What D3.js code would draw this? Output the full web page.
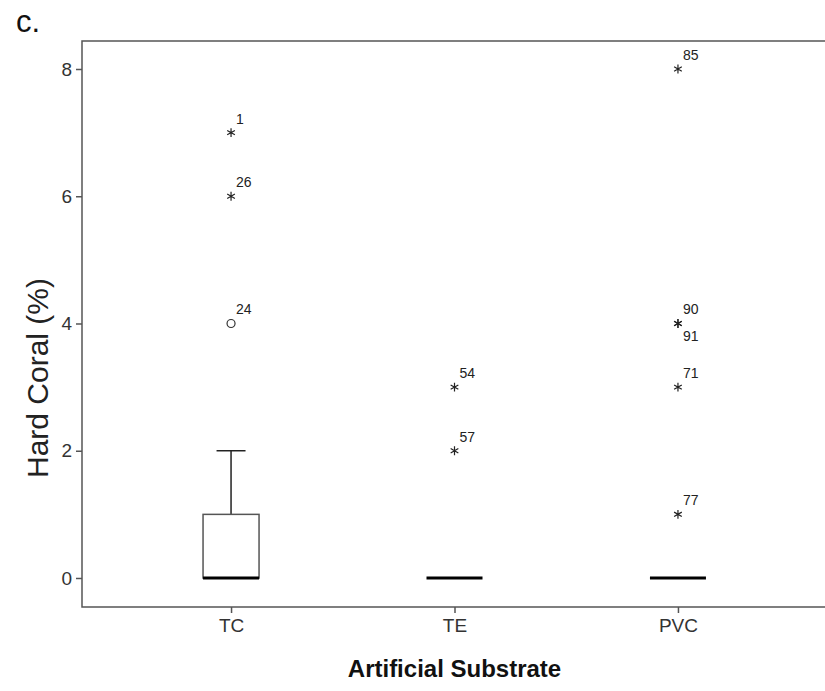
<!DOCTYPE html>
<html>
<head>
<meta charset="utf-8">
<script src="https://cdn.jsdelivr.net/npm/d3@7"></script>
<style>
  body { margin: 0; background: #fff; }
  svg { display: block; font-family: "Liberation Sans", Arial, sans-serif; }
</style>
</head>
<body>
<div id="chart"></div>
<script>
// data
const categories = ["TC", "TE", "PVC"];
const q1 = [0, 0, 0];
const median = [0, 0, 0];
const q3 = [1, 0, 0];
const whiskLo = [0, 0, 0];
const whiskHi = [2, 0, 0];
// outliers: category, value, case label, kind (o = outlier, * = extreme)
const outCat = ["TC", "TC", "TC", "TE", "TE", "PVC", "PVC", "PVC", "PVC", "PVC"];
const outVal = [7, 6, 4, 3, 2, 8, 4, 4, 3, 1];
const outLbl = ["1", "26", "24", "54", "57", "85", "90", "91", "71", "77"];
const outKind = ["*", "*", "o", "*", "*", "*", "*", "*", "*", "*"];
const yTicks = [0, 2, 4, 6, 8];

const width = 825, height = 691;
const plotL = 82, plotT = 41, plotB = 607, plotR = 827;

const svg = d3.select("#chart").append("svg")
  .attr("width", width)
  .attr("height", height);

const x = d3.scalePoint().domain(categories).range([plotL, plotR]).padding(0.667);
const y = d3.scaleLinear().domain([-0.456, 8.44]).range([plotB, plotT]);

const axisColor = "#555";
const boxW = 56, capW = 29;

// frame (top, left, bottom)
svg.append("path")
  .attr("d", `M${plotR},${plotT}H${plotL}V${plotB}H${plotR}`)
  .attr("fill", "none")
  .attr("stroke", axisColor)
  .attr("stroke-width", 1.5);

// y axis
const yAxis = svg.append("g")
  .attr("transform", `translate(${plotL},0)`)
  .call(d3.axisLeft(y).tickValues(yTicks).tickSize(6).tickPadding(4).tickFormat(d3.format("d")));
yAxis.select(".domain").remove();
yAxis.selectAll("line").attr("stroke", axisColor).attr("stroke-width", 1.5);
yAxis.selectAll("text").attr("fill", "#333").style("font-size", "19px");

// x axis
const xAxis = svg.append("g")
  .attr("transform", `translate(0,${plotB})`)
  .call(d3.axisBottom(x).tickSize(6).tickPadding(6));
xAxis.select(".domain").remove();
xAxis.selectAll("line").attr("stroke", axisColor).attr("stroke-width", 1.5);
xAxis.selectAll("text").attr("fill", "#333").style("font-size", "19px");

// boxes
const boxes = svg.append("g");
categories.forEach((c, i) => {
  const cx = x(c);
  if (whiskHi[i] > q3[i]) {
    boxes.append("line")
      .attr("x1", cx).attr("x2", cx)
      .attr("y1", y(q3[i])).attr("y2", y(whiskHi[i]))
      .attr("stroke", "#222").attr("stroke-width", 1.5);
    boxes.append("line")
      .attr("x1", cx - capW / 2).attr("x2", cx + capW / 2)
      .attr("y1", y(whiskHi[i])).attr("y2", y(whiskHi[i]))
      .attr("stroke", "#222").attr("stroke-width", 1.5);
  }
  if (q3[i] > q1[i]) {
    boxes.append("rect")
      .attr("x", cx - boxW / 2)
      .attr("y", y(q3[i]))
      .attr("width", boxW)
      .attr("height", y(q1[i]) - y(q3[i]))
      .attr("fill", "#fff")
      .attr("stroke", "#555")
      .attr("stroke-width", 1.5);
  }
  boxes.append("line")
    .attr("x1", cx - boxW / 2).attr("x2", cx + boxW / 2)
    .attr("y1", y(median[i])).attr("y2", y(median[i]))
    .attr("stroke", "#000").attr("stroke-width", 3);
});

// outliers
const pts = svg.append("g");
const star = d3.symbol().type(d3.symbolAsterisk).size(55);
outVal.forEach((v, i) => {
  const cx = x(outCat[i]), cy = y(v);
  if (outKind[i] === "o") {
    pts.append("circle")
      .attr("cx", cx).attr("cy", cy).attr("r", 4)
      .attr("fill", "none").attr("stroke", "#333").attr("stroke-width", 1.2);
  } else {
    pts.append("path")
      .attr("d", star())
      .attr("transform", `translate(${cx},${cy})`)
      .attr("stroke", "#222").attr("stroke-width", 1.2);
  }
  // second label on a shared point goes underneath
  const below = i > 0 && outVal[i - 1] === v && outCat[i - 1] === outCat[i];
  pts.append("text")
    .attr("x", cx + 5)
    .attr("y", below ? cy + 18 : cy - 9)
    .attr("fill", "#222")
    .style("font-size", "14px")
    .text(outLbl[i]);
});

// titles
svg.append("text")
  .attr("transform", `translate(48,378) rotate(-90)`)
  .attr("text-anchor", "middle")
  .attr("fill", "#222")
  .style("font-size", "30px")
  .text("Hard Coral (%)");

svg.append("text")
  .attr("x", x("TE"))
  .attr("y", 677)
  .attr("text-anchor", "middle")
  .attr("fill", "#111")
  .style("font-size", "24px")
  .style("font-weight", "bold")
  .text("Artificial Substrate");

svg.append("text")
  .attr("x", 16)
  .attr("y", 32)
  .attr("fill", "#111")
  .style("font-size", "31px")
  .text("c.");
</script>
</body>
</html>
